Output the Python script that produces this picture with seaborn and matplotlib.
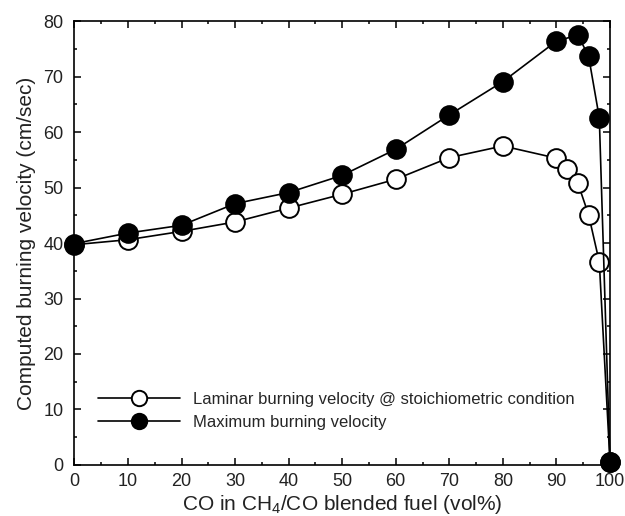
import matplotlib
matplotlib.use("Agg")
import matplotlib.pyplot as plt
import seaborn as sns
import pandas as pd
from matplotlib.ticker import MultipleLocator

co_laminar = [0, 10, 20, 30, 40, 50, 60, 70, 80, 90, 92, 94, 96, 98, 100]
v_laminar = [39.7, 40.6, 42.1, 43.8, 46.3, 48.8, 51.5, 55.4, 57.5, 55.3, 53.4, 50.8, 45.1, 36.6, 0.5]

co_max = [0, 10, 20, 30, 40, 50, 60, 70, 80, 90, 94, 96, 98, 100]
v_max = [39.9, 41.8, 43.2, 47.1, 49.1, 52.2, 56.9, 63.1, 69.1, 76.4, 77.5, 73.7, 62.6, 0.5]

label_laminar = "Laminar burning velocity @ stoichiometric condition"
label_max = "Maximum burning velocity"

sns.set_theme(style="ticks")
plt.rcParams["font.family"] = ["Liberation Sans", "DejaVu Sans"]
plt.rcParams["mathtext.default"] = "regular"

df_lam = pd.DataFrame({"x": co_laminar, "y": v_laminar})
df_max = pd.DataFrame({"x": co_max, "y": v_max})

fig = plt.figure(figsize=(6.25, 5.16), dpi=100)
ax = fig.add_axes([0.119, 0.099, 0.857, 0.860])

sns.lineplot(data=df_lam, x="x", y="y", ax=ax, color="black", linewidth=1.2,
             marker="o", markersize=13.5, markerfacecolor="white",
             markeredgecolor="black", markeredgewidth=1.4, clip_on=False,
             label=label_laminar, sort=False, zorder=3)
sns.lineplot(data=df_max, x="x", y="y", ax=ax, color="black", linewidth=1.2,
             marker="o", markersize=13.5, markerfacecolor="black",
             markeredgecolor="black", markeredgewidth=1.4, clip_on=False,
             label=label_max, sort=False, zorder=4)

ax.set_xlim(0, 100)
ax.set_ylim(0, 80)
ax.xaxis.set_major_locator(MultipleLocator(10))
ax.xaxis.set_minor_locator(MultipleLocator(5))
ax.yaxis.set_major_locator(MultipleLocator(10))
ax.yaxis.set_minor_locator(MultipleLocator(5))
ax.tick_params(which="both", direction="in", top=True, right=True,
               color="black", width=1.1, labelsize=13, labelcolor="#222222")
ax.tick_params(axis="y", which="both", pad=8)
ax.tick_params(axis="x", which="both", pad=6)
ax.tick_params(which="major", length=5)
ax.tick_params(which="minor", length=2.5)
for s in ax.spines.values():
    s.set_linewidth(1.2)
    s.set_color("black")

ax.set_xlabel("CO in CH$_4$/CO blended fuel (vol%)", fontsize=15, color="#222222", labelpad=2)
ax.set_ylabel("Computed burning velocity (cm/sec)", fontsize=15, color="#222222", labelpad=5)

leg = ax.legend(loc="lower left", bbox_to_anchor=(0.016, 0.045), frameon=False,
                fontsize=12, handlelength=4.9, handletextpad=0.78,
                labelspacing=0.5, markerscale=0.82)

fig.savefig("out.png", dpi=100)
